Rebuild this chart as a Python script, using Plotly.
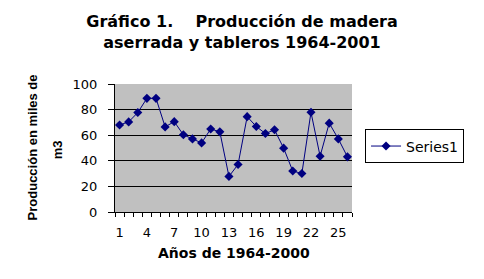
import plotly.graph_objects as go

years_idx = list(range(1, 27))
produccion = [68, 70.4, 77.7, 88.8, 88.8, 66.5, 70.6, 60.3, 57.1, 54,
              64.9, 62.6, 27.8, 37.1, 74.5, 66.8, 61.3, 64.2, 49.9, 32,
              30.1, 77.9, 43.6, 69.4, 57.1, 43.1]
x_ticks = [1, 4, 7, 10, 13, 16, 19, 22, 25]
series_name = "Series1"

FONT = "DejaVu Sans, sans-serif"
NARROW = "Liberation Sans, Arial, sans-serif"
NAVY = "#000080"

fig = go.Figure()
fig.add_trace(go.Scatter(
    x=years_idx, y=produccion, mode="lines+markers", name=series_name,
    line=dict(color=NAVY, width=1),
    marker=dict(symbol="diamond", size=7, color=NAVY),
))

n = len(years_idx)
fig.update_layout(
    width=484, height=279,
    margin=dict(l=115, r=132, t=84, b=67),
    paper_bgcolor="white",
    plot_bgcolor="#C0C0C0",
    font=dict(family=FONT, size=13, color="black"),
    title=dict(
        text="<b>Gráfico 1.    Producción de madera<br>aserrada y tableros 1964-2001</b>",
        x=0.5, xanchor="center", yref="container", y=0.903, yanchor="top",
        font=dict(family=FONT, size=16, color="black"),
    ),
    showlegend=True,
    legend=dict(
        x=1.055, y=0.645, xanchor="left", yanchor="top",
        bordercolor="black", borderwidth=1, bgcolor="white",
        font=dict(family=FONT, size=14, color="black"),
        itemwidth=30,
    ),
    xaxis=dict(
        range=[0.5, n + 0.5],
        tickmode="array", tickvals=x_ticks,
        ticks="", showgrid=False, zeroline=False,
        showline=True, linecolor="black", linewidth=1,
        tickfont=dict(family=FONT, size=13, color="black"),
        ticklabelstandoff=8,
        minor=dict(tickmode="array",
                   tickvals=[i + 0.5 for i in range(n + 1)],
                   ticks="outside", ticklen=4, tickcolor="black",
                   showgrid=False),
        fixedrange=True,
    ),
    yaxis=dict(
        range=[0, 100], tickvals=[0, 20, 40, 60, 80, 100],
        ticks="outside", ticklen=6, tickcolor="black",
        showgrid=True, gridcolor="black", gridwidth=1,
        zeroline=False,
        showline=True, linecolor="black", linewidth=1,
        tickfont=dict(family=FONT, size=13, color="black"),
        ticklabelstandoff=8,
        fixedrange=True,
    ),
    annotations=[
        dict(text="<b>Producción en miles de</b>", textangle=-90,
             xref="paper", yref="paper", x=-0.350, y=0.505,
             xanchor="center", yanchor="middle", showarrow=False,
             font=dict(family=NARROW, size=13, color="black")),
        dict(text="<b>m3</b>", textangle=-90,
             xref="paper", yref="paper", x=-0.245, y=0.49,
             xanchor="center", yanchor="middle", showarrow=False,
             font=dict(family=NARROW, size=13, color="black")),
        dict(text="<b>Años de 1964-2000</b>",
             xref="paper", yref="paper", x=0.5, y=-0.32,
             xanchor="center", yanchor="middle", showarrow=False,
             font=dict(family=FONT, size=14, color="black")),
    ],
)

fig.write_html("out.html")
